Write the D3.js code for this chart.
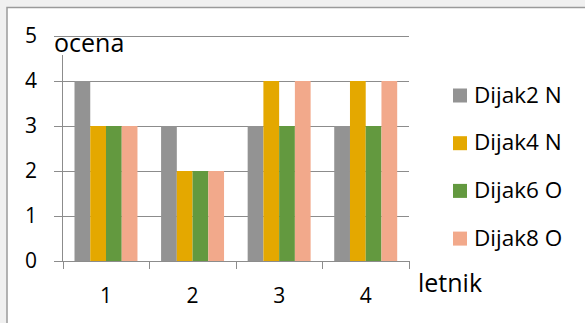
<!DOCTYPE html>
<html><head><meta charset="utf-8">
<script src="https://cdn.jsdelivr.net/npm/d3@7"></script>
<style>html,body{margin:0;padding:0;background:#f0f0f0;}svg{display:block;}</style>
</head><body>
<svg id="c" width="585" height="323"></svg>
<script>
const categories = ["1", "2", "3", "4"];
const seriesNames = ["Dijak2 N", "Dijak4 N", "Dijak6 O", "Dijak8 O"];
const dijak2N = [4, 3, 3, 3];
const dijak4N = [3, 2, 4, 4];
const dijak6O = [3, 2, 3, 3];
const dijak8O = [3, 2, 4, 4];
const yTicks = [0, 1, 2, 3, 4, 5];
const colors = ["#939393", "#E4A800", "#63993F", "#F2A98B"];
const seriesValues = [dijak2N, dijak4N, dijak6O, dijak8O];

const svg = d3.select("#c");
const font = "'Open Sans', sans-serif";
svg.append("rect").attr("x", 7).attr("y", 7.5).attr("width", 590).attr("height", 330)
  .attr("fill", "#fff").attr("stroke", "#9a9a9a").attr("stroke-width", 1.5);

const x0 = d3.scaleBand().domain(categories).range([62.7, 409]).padding(0);
const x1 = d3.scaleBand().domain(seriesNames).range([0, x0.bandwidth()]).paddingInner(0).paddingOuter(0.75);
const y = d3.scaleLinear().domain([0, 5]).range([261, 36]);
const gridColor = "#8c8c8c";

// gridlines
svg.append("g").selectAll("line").data(yTicks.filter(d => d > 0)).join("line")
  .attr("x1", 54).attr("x2", 409).attr("y1", d => Math.round(y(d)) + 0.5).attr("y2", d => Math.round(y(d)) + 0.5)
  .attr("stroke", gridColor);

// bars
const g = svg.append("g");
categories.forEach((c, ci) => {
  seriesNames.forEach((s, si) => {
    g.append("rect")
      .attr("x", x0(c) + x1(s)).attr("width", x1.bandwidth())
      .attr("y", y(seriesValues[si][ci])).attr("height", y(0) - y(seriesValues[si][ci]))
      .attr("fill", colors[si]);
  });
});

// y axis line
svg.append("line").attr("x1", 62.5).attr("x2", 62.5).attr("y1", 36).attr("y2", 261)
  .attr("stroke", gridColor);
// axis title box (covers top of y axis)
svg.append("rect").attr("x", 53).attr("y", 37).attr("width", 76).attr("height", 18).attr("fill", "#fff");

// x axis
svg.append("line").attr("x1", 54).attr("x2", 409).attr("y1", Math.round(y(0)) + 0.5).attr("y2", Math.round(y(0)) + 0.5)
  .attr("stroke", gridColor);
const bounds = categories.map(c => x0(c)).concat([x0(categories[categories.length - 1]) + x0.bandwidth()]);
svg.append("g").selectAll("line").data(bounds).join("line")
  .attr("x1", d => Math.round(d) + 0.5).attr("x2", d => Math.round(d) + 0.5)
  .attr("y1", 261).attr("y2", 269).attr("stroke", gridColor);

// y labels
svg.append("g").selectAll("text").data(yTicks).join("text")
  .attr("x", 37).attr("y", d => y(d) + 7).attr("text-anchor", "end")
  .attr("font-family", font).attr("font-size", 21).attr("fill", "#000").text(d => d);

// x labels
svg.append("g").selectAll("text").data(categories).join("text")
  .attr("x", d => x0(d) + x0.bandwidth() / 2).attr("y", 303).attr("text-anchor", "middle")
  .attr("font-family", font).attr("font-size", 21).attr("fill", "#000").text(d => d);

// axis titles
svg.append("text").attr("x", 54).attr("y", 52).attr("font-family", font).attr("font-size", 25)
  .attr("fill", "#000").text("ocena");
svg.append("text").attr("x", 418).attr("y", 291.5).attr("font-family", font).attr("font-size", 25)
  .attr("fill", "#000").text("letnik");

// legend
const leg = svg.append("g").selectAll("g").data(seriesNames).join("g")
  .attr("transform", (d, i) => `translate(453, ${102.5 + i * 47.7})`);
leg.append("rect").attr("x", 0).attr("y", -14).attr("width", 14).attr("height", 14)
  .attr("fill", (d, i) => colors[i]);
leg.append("text").attr("x", 21).attr("y", 0).attr("font-family", font).attr("font-size", 22.5)
  .attr("fill", "#000").text(d => d);
</script>
</body></html>
